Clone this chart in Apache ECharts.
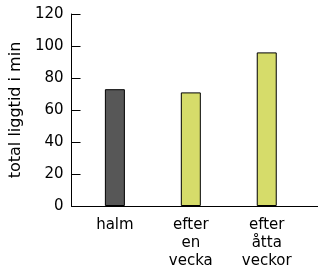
<!DOCTYPE html>
<html>
<head>
<meta charset="utf-8">
<script src="https://cdn.jsdelivr.net/npm/echarts@6/dist/echarts.min.js"></script>
<style>
  html, body { margin: 0; padding: 0; background: #fff; }
  #chart { width: 318px; height: 270px; }
</style>
</head>
<body>
<div id="chart"></div>
<script>
const categories = ['halm', 'efter\nen\nvecka', 'efter\nåtta\nveckor']
const values = [73, 71, 96]
const barColors = ['#575757', '#d6dc6a', '#d6dc6a']
const yTicks = [0, 20, 40, 60, 80, 100, 120]

const font = 'DejaVu Sans'
const chart = echarts.init(document.getElementById('chart'), null, { renderer: 'canvas' })

const option = {
  animation: false,
  grid: { left: 68, right: 0, top: 14, bottom: 62 },
  xAxis: {
    type: 'value',
    min: -0.571,
    max: 2.675,
    splitLine: { show: false },
    axisLine: { show: true, onZero: false, lineStyle: { color: '#000', width: 1 } },
    axisTick: { show: false },
    axisLabel: {
      customValues: [0, 1, 2],
      formatter: v => categories[Math.round(v)],
      color: '#000',
      fontFamily: font,
      fontSize: 15,
      lineHeight: 18,
      margin: 10,
      verticalAlign: 'top'
    }
  },
  yAxis: {
    type: 'value',
    min: 0,
    max: 120,
    interval: 20,
    name: 'total liggtid i min',
    nameLocation: 'middle',
    nameGap: 44,
    nameTextStyle: { color: '#000', fontFamily: font, fontSize: 16 },
    splitLine: { show: false },
    axisLine: { show: true, onZero: false, lineStyle: { color: '#000', width: 1 } },
    axisTick: { show: true, inside: true, length: 9, lineStyle: { color: '#000' } },
    axisLabel: {
      color: '#000',
      fontFamily: font,
      fontSize: 15,
      margin: 8,
      formatter: v => yTicks.includes(v) ? String(v) : ''
    }
  },
  series: [{
    type: 'bar',
    barWidth: 20,
    data: values.map((v, i) => ({
      value: [i, v],
      itemStyle: { color: barColors[i], borderColor: '#000', borderWidth: 1 }
    }))
  }]
}
chart.setOption(option)
</script>
</body>
</html>
